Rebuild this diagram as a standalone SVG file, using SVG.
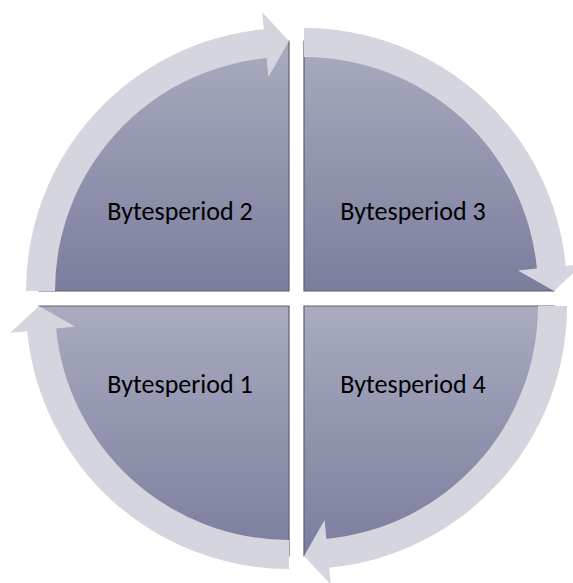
<svg xmlns="http://www.w3.org/2000/svg" width="573" height="583" viewBox="0 0 573 583">
  <defs>
    <linearGradient id="pieGrad" x1="0" y1="0" x2="0" y2="1">
      <stop offset="0" stop-color="#a9abc0"/>
      <stop offset="1" stop-color="#7b7d9d"/>
    </linearGradient>
  </defs>
  <style>
    .pie { fill: url(#pieGrad); stroke: #5f6075; stroke-width: 1.2; }
    .arrow { fill: #d4d5df; stroke: none; }
    .label { font-family: Carlito, Calibri, Lato, "Liberation Sans", sans-serif; font-size: 26px; fill: #000000; text-anchor: middle; }
  </style>
  <rect width="573" height="583" fill="#ffffff"/>
  <g id="segment2">
    <path class="pie" d="M289,291 L39,291 A250,250 0 0 1 289,41 Z"/>
    <text class="label" x="180" y="220">Bytesperiod 2</text>
  </g>
  <g id="segment3">
    <path class="pie" d="M304,291 L304,41 A250,250 0 0 1 554,291 Z"/>
    <text class="label" x="413" y="220">Bytesperiod 3</text>
  </g>
  <g id="segment4">
    <path class="pie" d="M304,306 L554,306 A250,250 0 0 1 304,556 Z"/>
    <text class="label" x="413" y="393">Bytesperiod 4</text>
  </g>
  <g id="segment1">
    <path class="pie" d="M289,306 L289,556 A250,250 0 0 1 39,306 Z"/>
    <text class="label" x="180" y="393">Bytesperiod 1</text>
  </g>
  <g id="connectors">
    <path class="arrow" d="M26,291 A263,263 0 0 1 263.79,29.21 L262.16,12.29 L289,41 L268.39,76.99 L266.57,58.08 A234,234 0 0 0 55,291 Z"/>
    <path class="arrow" d="M304,28 A263,263 0 0 1 565.79,265.79 L582.71,264.16 L554,291 L518.01,270.39 L536.92,268.57 A234,234 0 0 0 304,57 Z"/>
    <path class="arrow" d="M567,306 A263,263 0 0 1 329.21,567.79 L330.84,584.71 L304,556 L324.61,520.01 L326.43,538.92 A234,234 0 0 0 538,306 Z"/>
    <path class="arrow" d="M289,569 A263,263 0 0 1 27.21,331.21 L10.29,332.84 L39,306 L74.99,326.61 L56.08,328.43 A234,234 0 0 0 289,540 Z"/>
  </g>
</svg>
